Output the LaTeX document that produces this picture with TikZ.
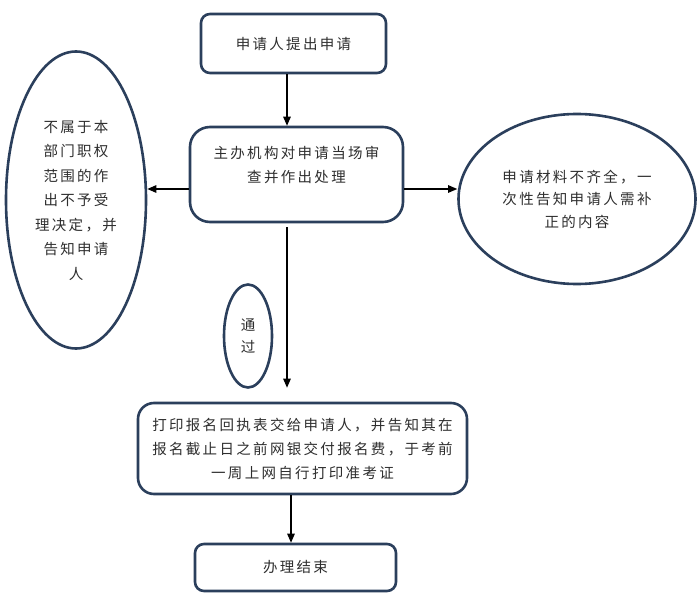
\documentclass[tikz,border=0pt]{standalone}
\usepackage{fontspec}
\setmainfont{Noto Sans CJK SC}[LetterSpace=16]
\usetikzlibrary{arrows.meta,shapes.geometric}
\definecolor{boxline}{HTML}{2B3F5C}
\definecolor{txtgray}{HTML}{2E2E2E}

\begin{document}
\begin{tikzpicture}[x=1bp,y=-1bp,
  rbox/.style={draw=boxline,line width=2.6bp,fill=white,align=center,text=txtgray,
    font=\fontsize{14.5bp}{24bp}\selectfont},
  oval/.style={rbox,ellipse,inner sep=0pt},
  arr/.style={-{Triangle[length=9bp,width=7.5bp]},line width=1.1bp}]
  \pgfmathsetmacro\xa{287}
  \pgfmathsetmacro\xb{291}
  \pgfmathsetmacro\ya{189}
  \useasboundingbox (0,0) rectangle (700,599);
  % boxes of the main line:
  \node[rbox,rounded corners=9bp,minimum width=185bp,minimum height=59bp] (apply) at (293.5,43.5) {申请人提出申请};
  \node[rbox,rounded corners=20bp,minimum width=213bp,minimum height=95bp,
    label={[align=center,text=txtgray,font=\fontsize{14.5bp}{24bp}\selectfont,yshift=9.5bp]center:{主办机构对申请当场审\\查并作出处理}}] (check) at (296.5,174.5) {};
  \node[rbox,rounded corners=16bp,minimum width=329bp,minimum height=91bp] (slip) at (302.5,448.5)
    {打印报名回执表交给申请人，并告知其在\\报名截止日之前网银交付报名费，于考前\\一周上网自行打印准考证};
  \node[rbox,rounded corners=9bp,minimum width=201bp,minimum height=47bp] (done) at (295.5,567.5) {办理结束};
  % side results of the check:
  \node[oval,minimum width=140bp,minimum height=297bp,font=\fontsize{14.5bp}{24.5bp}\selectfont] (reject) at (76,200)
    {不属于本\\部门职权\\范围的作\\出不予受\\理决定，并\\告知申请\\人};
  \node[oval,minimum width=237bp,minimum height=170bp,font=\fontsize{14.5bp}{22.5bp}\selectfont] (supply) at (577,199)
    {申请材料不齐全，一\\次性告知申请人需补\\正的内容};
  % note beside the down arrow:
  \node[oval,minimum width=48bp,minimum height=103bp,font=\fontsize{14.5bp}{22bp}\selectfont] (pass) at (248,336) {通\\过};
  % arrows:
  \draw[arr] (apply.south -| \xa,0) -- (check.north -| \xa,0);
  \draw[arr] (check.west |- 0,\ya) -- (reject.east |- 0,\ya);
  \draw[arr] (check.east |- 0,\ya) -- (supply.west |- 0,\ya);
  \draw[arr,shorten <=4bp,shorten >=14bp] (check.south -| \xa,0) -- (slip.north -| \xa,0);
  \draw[arr] (slip.south -| \xb,0) -- (done.north -| \xb,0);
\end{tikzpicture}
\end{document}
